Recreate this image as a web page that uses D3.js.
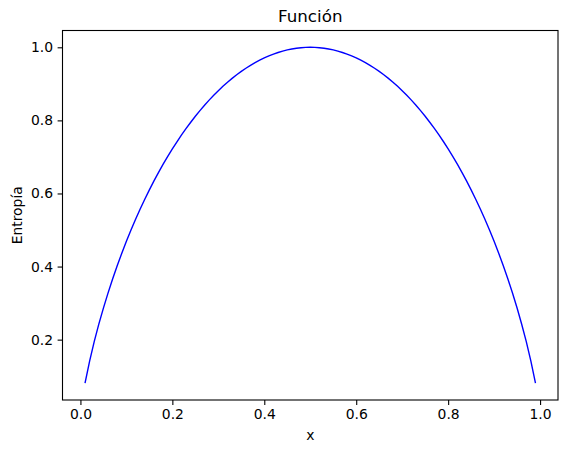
<!DOCTYPE html>
<html>
<head>
<meta charset="utf-8">
<script src="https://cdn.jsdelivr.net/npm/d3@7"></script>
<style>
  body { margin: 0; background: #fff; }
  text { font-family: "DejaVu Sans", sans-serif; fill: #000; }
</style>
</head>
<body>
<div id="root"></div>
<script>
// p values as plotted (0.01 .. 0.99)
const xValues = [
  0.01, 0.02, 0.03, 0.04, 0.05, 0.06, 0.07, 0.08, 0.09, 0.10,
  0.11, 0.12, 0.13, 0.14, 0.15, 0.16, 0.17, 0.18, 0.19, 0.20,
  0.21, 0.22, 0.23, 0.24, 0.25, 0.26, 0.27, 0.28, 0.29, 0.30,
  0.31, 0.32, 0.33, 0.34, 0.35, 0.36, 0.37, 0.38, 0.39, 0.40,
  0.41, 0.42, 0.43, 0.44, 0.45, 0.46, 0.47, 0.48, 0.49, 0.50,
  0.51, 0.52, 0.53, 0.54, 0.55, 0.56, 0.57, 0.58, 0.59, 0.60,
  0.61, 0.62, 0.63, 0.64, 0.65, 0.66, 0.67, 0.68, 0.69, 0.70,
  0.71, 0.72, 0.73, 0.74, 0.75, 0.76, 0.77, 0.78, 0.79, 0.80,
  0.81, 0.82, 0.83, 0.84, 0.85, 0.86, 0.87, 0.88, 0.89, 0.90,
  0.91, 0.92, 0.93, 0.94, 0.95, 0.96, 0.97, 0.98, 0.99,
];

// entropy
const entropyValues = [
  0.0808, 0.1414, 0.1944, 0.2423, 0.2864, 0.3274, 0.3659, 0.4022, 0.4365, 0.4690,
  0.4999, 0.5294, 0.5574, 0.5842, 0.6098, 0.6343, 0.6577, 0.6801, 0.7015, 0.7219,
  0.7415, 0.7602, 0.7780, 0.7950, 0.8113, 0.8267, 0.8415, 0.8555, 0.8687, 0.8813,
  0.8932, 0.9044, 0.9149, 0.9248, 0.9341, 0.9427, 0.9507, 0.9580, 0.9648, 0.9710,
  0.9765, 0.9815, 0.9858, 0.9896, 0.9928, 0.9954, 0.9974, 0.9988, 0.9997, 1.0000,
  0.9997, 0.9988, 0.9974, 0.9954, 0.9928, 0.9896, 0.9858, 0.9815, 0.9765, 0.9710,
  0.9648, 0.9580, 0.9507, 0.9427, 0.9341, 0.9248, 0.9149, 0.9044, 0.8932, 0.8813,
  0.8687, 0.8555, 0.8415, 0.8267, 0.8113, 0.7950, 0.7780, 0.7602, 0.7415, 0.7219,
  0.7015, 0.6801, 0.6577, 0.6343, 0.6098, 0.5842, 0.5574, 0.5294, 0.4999, 0.4690,
  0.4365, 0.4022, 0.3659, 0.3274, 0.2864, 0.2423, 0.1944, 0.1414, 0.0808,
];

const xTicks = [0.0, 0.2, 0.4, 0.6, 0.8, 1.0];
const yTicks = [0.2, 0.4, 0.6, 0.8, 1.0];

const width = 567;
const height = 453;
const margin = { top: 30.5, right: 9, bottom: 53, left: 62.5 };

const svg = d3.select("#root").append("svg")
  .attr("width", width)
  .attr("height", height);

// matplotlib-style 5% padding around the data
const xExt = d3.extent(xValues);
const yExt = d3.extent(entropyValues);
const xPad = (xExt[1] - xExt[0]) * 0.05;
const yPad = (yExt[1] - yExt[0]) * 0.05;

const x = d3.scaleLinear()
  .domain([xExt[0] - xPad, xExt[1] + xPad])
  .range([margin.left, width - margin.right]);

const y = d3.scaleLinear()
  .domain([yExt[0] - yPad, yExt[1] + yPad])
  .range([height - margin.bottom, margin.top]);

const fmt = d3.format(".1f");

svg.append("g")
  .attr("transform", `translate(0, ${height - margin.bottom})`)
  .call(d3.axisBottom(x).tickValues(xTicks).tickFormat(fmt).tickSizeOuter(0).tickSize(4.9).tickPadding(4.5))
  .call(g => g.select(".domain").remove())
  .call(g => g.selectAll("line").attr("stroke", "#000").attr("stroke-width", 1.1))
  .call(g => g.selectAll("text").attr("font-size", 13.9).attr("font-family", "DejaVu Sans"));

svg.append("g")
  .attr("transform", `translate(${margin.left}, 0)`)
  .call(d3.axisLeft(y).tickValues(yTicks).tickFormat(fmt).tickSizeOuter(0).tickSize(4.9).tickPadding(4.5))
  .call(g => g.select(".domain").remove())
  .call(g => g.selectAll("line").attr("stroke", "#000").attr("stroke-width", 1.1))
  .call(g => g.selectAll("text").attr("font-size", 13.9).attr("font-family", "DejaVu Sans"));

const line = d3.line()
  .x((d, i) => x(xValues[i]))
  .y(d => y(d));

svg.append("path")
  .datum(entropyValues)
  .attr("fill", "none")
  .attr("stroke", "blue")
  .attr("stroke-width", 1.4)
  .attr("d", line);

// axes frame
svg.append("rect")
  .attr("x", margin.left)
  .attr("y", margin.top)
  .attr("width", width - margin.right - margin.left)
  .attr("height", height - margin.bottom - margin.top)
  .attr("fill", "none")
  .attr("stroke", "#000")
  .attr("stroke-width", 1.1);

const cx = (margin.left + width - margin.right) / 2;

svg.append("text")
  .attr("x", cx)
  .attr("y", 22)
  .attr("text-anchor", "middle")
  .attr("font-size", 16.7)
  .text("Función");

svg.append("text")
  .attr("x", cx)
  .attr("y", 440)
  .attr("text-anchor", "middle")
  .attr("font-size", 13.9)
  .text("x");

svg.append("text")
  .attr("transform", `translate(22, ${(margin.top + height - margin.bottom) / 2}) rotate(-90)`)
  .attr("text-anchor", "middle")
  .attr("font-size", 13.9)
  .text("Entropía");
</script>
</body>
</html>
